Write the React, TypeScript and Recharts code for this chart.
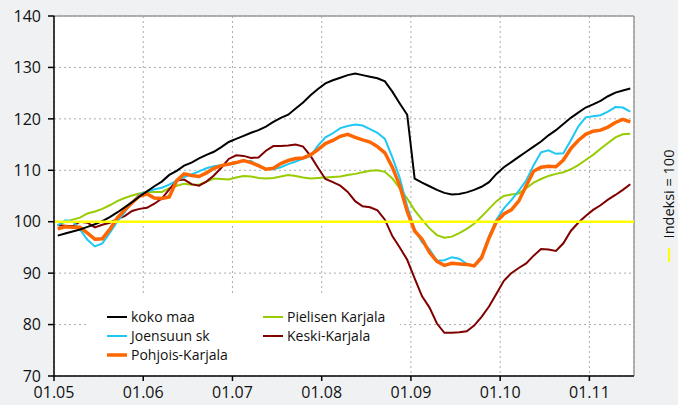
import React from 'react';
import { LineChart, Line, XAxis, YAxis, CartesianGrid, Legend, ReferenceLine } from 'recharts';

// monthly index values 01/2005 - 06/2011 (index = 100)
const kokoMaa = [
  97.3, 97.7, 98.1, 98.5, 99.0, 99.5, 100.1, 100.9, 101.8, 102.8, 103.8, 104.9,
  105.9, 106.9, 107.8, 109.1, 109.9, 110.9, 111.5, 112.3, 113.0, 113.6, 114.5, 115.5,
  116.1, 116.7, 117.3, 117.8, 118.5, 119.4, 120.2, 120.8, 122.0, 123.2, 124.6, 125.8,
  126.9, 127.5, 128.0, 128.5, 128.8, 128.5, 128.2, 127.9, 127.3, 125.3, 123.0, 120.8,
  108.4, 107.6, 106.9, 106.2, 105.6, 105.3, 105.4, 105.7, 106.2, 106.8, 107.7, 109.3,
  110.6, 111.6, 112.6, 113.6, 114.6, 115.6, 116.8, 117.8, 119.0, 120.2, 121.2, 122.2,
  122.8, 123.5, 124.4, 125.1, 125.5, 125.9,
];
const joensuunSk = [
  99.3, 100.3, 100.1, 98.5, 96.5, 95.2, 95.8, 97.8, 100.0, 101.8, 103.8, 105.3,
  105.8, 106.3, 106.6, 107.2, 108.0, 108.7, 109.2, 109.8, 110.4, 110.8, 111.0, 111.1,
  111.4, 111.8, 111.8, 110.9, 110.3, 110.2, 110.6, 111.2, 111.7, 112.3, 112.8, 114.8,
  116.4, 117.2, 118.2, 118.6, 118.9, 118.7, 118.0, 117.3, 116.1, 112.5, 108.5, 103.0,
  98.5, 96.0, 94.6, 92.4, 92.5, 93.1, 92.8, 91.8, 91.5, 93.3, 97.2, 100.4,
  102.6, 104.2, 106.0, 108.0, 111.0, 113.5, 113.9, 113.2, 113.3, 115.8, 118.5, 120.3,
  120.5, 120.7, 121.4, 122.3, 122.2, 121.4,
];
const pohjoisKarjala = [
  98.6, 99.0, 98.9, 98.9, 97.8, 96.6, 96.7, 98.5, 100.7, 102.3, 103.7, 105.0,
  105.4, 104.6, 104.5, 104.8, 108.0, 109.3, 109.0, 108.8, 109.5, 110.4, 110.9, 111.2,
  111.5, 111.9, 111.5, 110.9, 110.2, 110.4, 111.3, 111.9, 112.3, 112.4, 113.0, 114.0,
  115.2, 115.8, 116.6, 117.0, 116.4, 115.9, 115.5, 114.6, 113.4, 110.6, 107.0, 102.0,
  98.2, 96.6, 94.0, 92.3, 91.5, 91.9, 91.8, 91.7, 91.4, 93.0, 96.8, 100.0,
  101.5, 102.3, 104.0, 107.0, 109.8, 110.6, 110.8, 110.7, 112.0, 114.2, 115.8, 117.0,
  117.6, 117.8, 118.4, 119.3, 119.9, 119.4,
];
const pielisenKarjala = [
  99.3, 100.0, 100.4, 100.8, 101.6, 102.0, 102.5, 103.2, 104.0, 104.6, 105.1, 105.5,
  105.8, 105.8, 105.8, 106.5, 107.0, 107.4, 107.2, 107.2, 107.8, 108.4, 108.3, 108.2,
  108.6, 108.9, 108.8, 108.5, 108.4, 108.5, 108.8, 109.1, 108.9, 108.6, 108.4, 108.5,
  108.6, 108.7, 108.8, 109.1, 109.3, 109.6, 109.9, 110.0, 109.7, 108.4, 106.5, 104.5,
  102.2, 100.4, 98.7, 97.4, 96.9, 97.1, 97.8, 98.6, 99.6, 101.0, 102.5, 104.0,
  105.0, 105.3, 105.5, 106.5, 107.6, 108.3, 108.9, 109.3, 109.6, 110.2, 111.0, 112.0,
  113.0, 114.2, 115.3, 116.4, 117.0, 117.1,
];
const keskiKarjala = [
  99.3, 99.2, 99.1, 100.0, 99.8, 98.9, 99.4, 99.8, 100.5, 101.1, 102.1, 102.5,
  102.7, 103.5, 104.5, 106.3, 108.0, 108.2, 107.3, 107.0, 107.8, 109.0, 110.5, 112.2,
  112.9, 112.8, 112.4, 112.5, 113.8, 114.7, 114.7, 114.8, 115.0, 114.6, 112.8, 110.5,
  108.3, 107.7, 107.0, 105.8, 104.0, 103.0, 102.8, 102.2, 100.4, 97.2, 95.0, 92.6,
  89.0, 85.5, 83.3, 80.2, 78.4, 78.4, 78.5, 78.7, 79.8, 81.5, 83.5, 86.0,
  88.5, 90.0, 91.0, 91.9, 93.4, 94.7, 94.6, 94.3, 95.8, 98.2, 99.8, 101.1,
  102.3, 103.2, 104.3, 105.2, 106.2, 107.3,
];

const yearTicks = [0, 12, 24, 36, 48, 60, 72];
const yearLabels = ['01.05', '01.06', '01.07', '01.08', '01.09', '01.10', '01.11'];
const yTicks = [70, 80, 90, 100, 110, 120, 130, 140];

const series = [
  { key: 'pielisen', name: 'Pielisen Karjala', color: '#99cc00', width: 2 },
  { key: 'keski', name: 'Keski-Karjala', color: '#800000', width: 2 },
  { key: 'joensuu', name: 'Joensuun sk', color: '#1ec8f5', width: 2 },
  { key: 'pohjois', name: 'Pohjois-Karjala', color: '#ff6600', width: 3.5 },
  { key: 'koko', name: 'koko maa', color: '#000000', width: 2 },
];

// legend order as in the picture: column 1 then column 2
const legendOrder = ['koko', 'joensuu', 'pohjois', 'pielisen', 'keski'];

const data = kokoMaa.map((v, i) => ({
  x: i + 0.5,
  koko: v,
  joensuu: joensuunSk[i],
  pohjois: pohjoisKarjala[i],
  pielisen: pielisenKarjala[i],
  keski: keskiKarjala[i],
}));

const FONT = '"Open Sans", "DejaVu Sans", sans-serif';

function InnerLegend() {
  return (
    <div style={{ position: 'relative', width: 312, height: 79, background: '#fff' }}>
      {legendOrder.map((k, idx) => {
        const s = series.find((d) => d.key === k)!;
        const col = idx < 3 ? 0 : 1;
        const row = idx < 3 ? idx : idx - 3;
        return (
          <div
            key={k}
            style={{
              position: 'absolute',
              left: 19 + col * 156,
              top: 11 + row * 19.2,
              height: 19,
              display: 'flex',
              alignItems: 'center',
              whiteSpace: 'nowrap',
              fontFamily: FONT,
              fontSize: 14,
              color: '#111',
            }}
          >
            <svg width={20} height={6} style={{ marginRight: 4 }}>
              <line x1={0} x2={20} y1={3} y2={3} stroke={s.color} strokeWidth={s.width} />
            </svg>
            {s.name}
          </div>
        );
      })}
    </div>
  );
}

export default function App() {
  return (
    <div style={{ position: 'absolute', left: 0, top: 0, width: 678, height: 405, background: '#f0f1f3' }}>
      <LineChart width={678} height={405} data={data} margin={{ top: 16, right: 44, bottom: 0, left: 0 }}>
        <CartesianGrid fill="#ffffff" stroke="#aaaaaa" strokeDasharray="2 3" />
        <XAxis
          type="number"
          dataKey="x"
          domain={[0, 78]}
          ticks={yearTicks}
          tickFormatter={(v: number) => yearLabels[yearTicks.indexOf(v)]}
          height={29}
          stroke="#000"
          strokeWidth={1.5}
          tickSize={5}
          tickMargin={6}
          tick={{ fill: '#111', fontSize: 16, fontFamily: FONT }}
        />
        <YAxis
          domain={[70, 140]}
          ticks={yTicks}
          width={54}
          stroke="#000"
          strokeWidth={1.5}
          tickSize={6}
          tickMargin={7}
          tick={{ fill: '#111', fontSize: 16, fontFamily: FONT }}
        />
        <ReferenceLine y={140} stroke="#9a9a9a" strokeWidth={1.5} />
        <ReferenceLine x={78} stroke="#9a9a9a" strokeWidth={1.5} />
        <Legend
          layout="vertical"
          align="center"
          verticalAlign="middle"
          content={() => <InnerLegend />}
          wrapperStyle={{ left: 88, top: 296, width: 312, height: 79 }}
        />
        {series.map((s) => (
          <Line
            key={s.key}
            type="linear"
            dataKey={s.key}
            name={s.name}
            stroke={s.color}
            strokeWidth={s.width}
            dot={false}
            isAnimationActive={false}
          />
        ))}
        <ReferenceLine y={100} stroke="#ffff00" strokeWidth={2.5} />
      </LineChart>
      <svg width={678} height={405} style={{ position: 'absolute', left: 0, top: 0, pointerEvents: 'none' }}>
        <text
          transform="translate(674, 194) rotate(-90)"
          textAnchor="middle"
          fontFamily={FONT}
          fontSize={14.5}
          fill="#111"
        >
          Indeksi = 100
        </text>
        <line x1={669} x2={669} y1={248} y2={262} stroke="#ffff00" strokeWidth={2} />
      </svg>
    </div>
  );
}
